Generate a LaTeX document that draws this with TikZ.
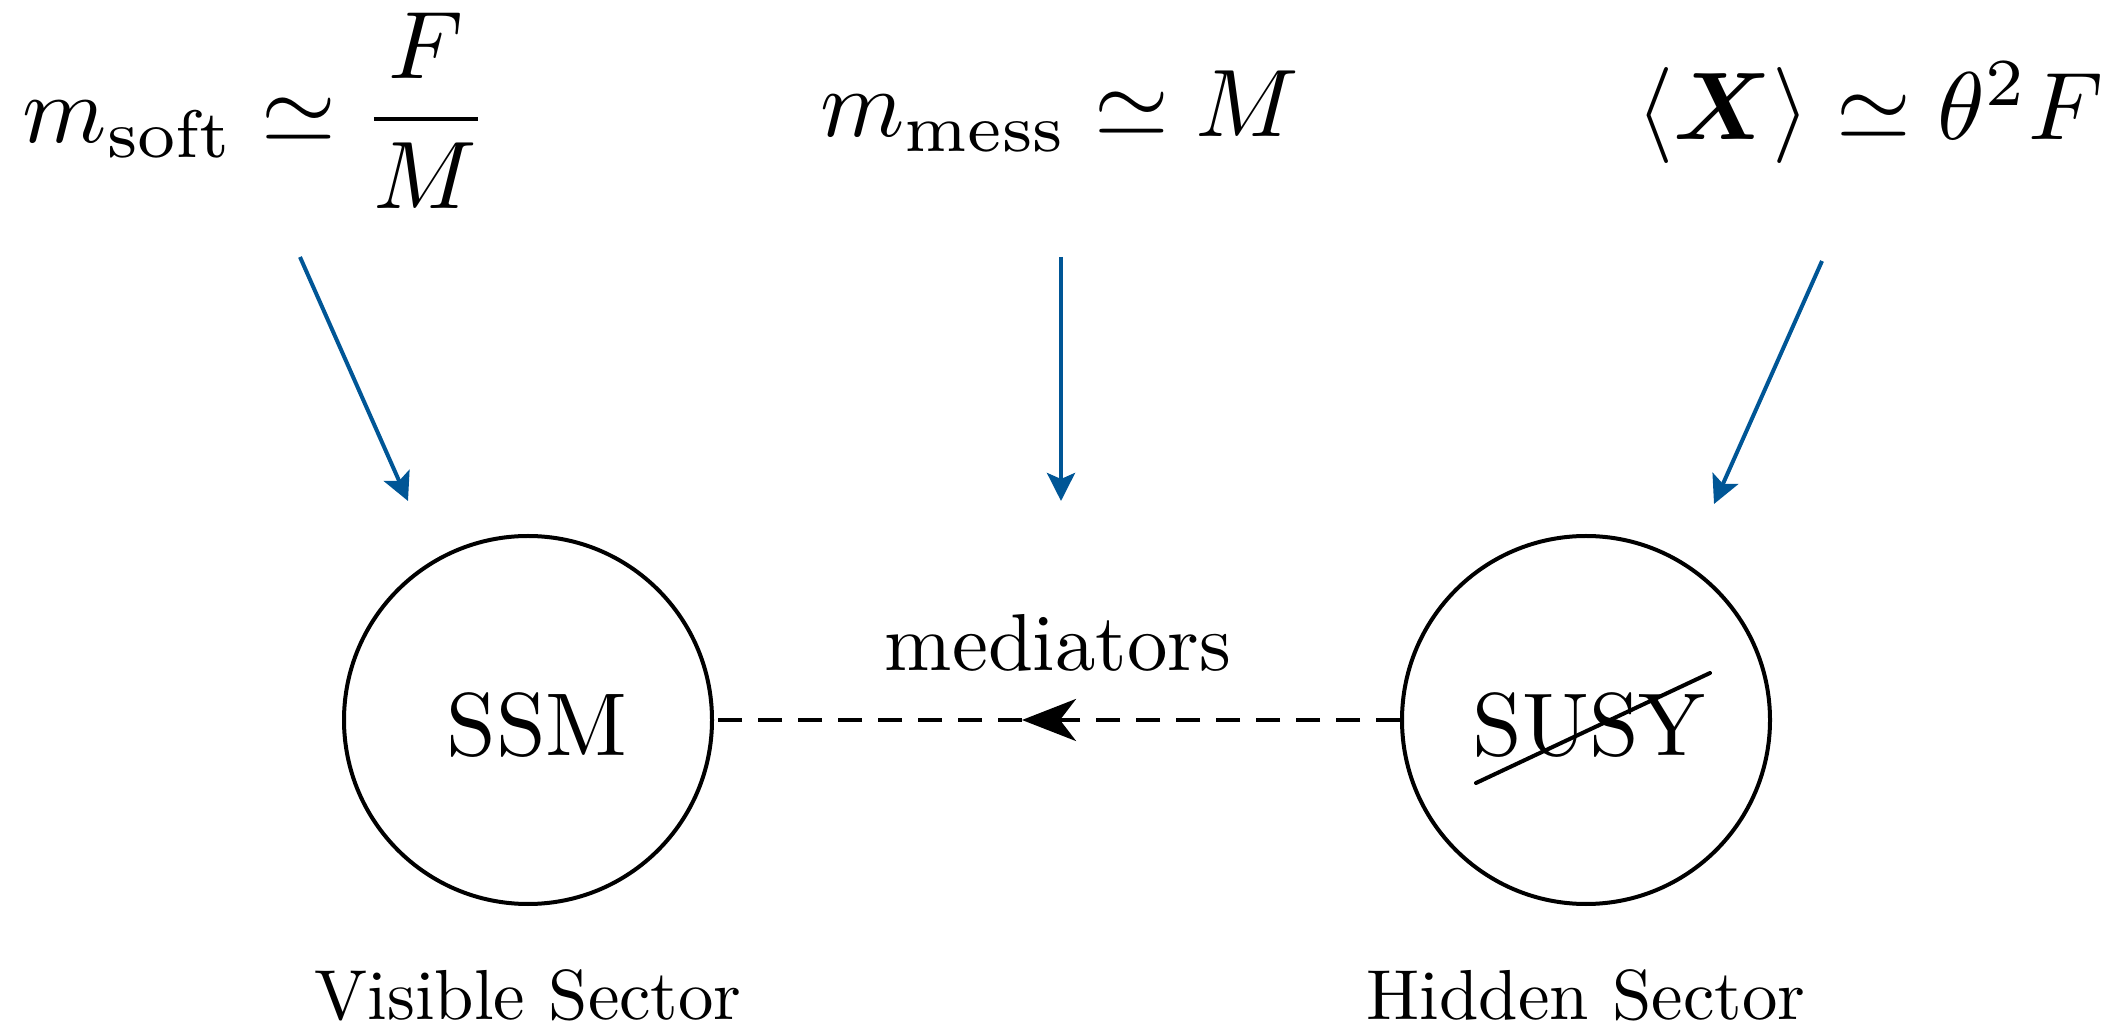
\documentclass[tikz,border=0pt]{standalone}
\usepackage{amsmath}
\usepackage{graphicx}
\usetikzlibrary{arrows.meta}
\definecolor{arrblue}{RGB}{0,86,150}
\begin{document}
\begin{tikzpicture}[x=0.25pt,y=-0.25pt,
  sector/.style={draw,circle,line width=1pt,minimum size=92pt,inner sep=0pt},
  intext/.style={inner sep=0pt},
  toplabel/.style={inner sep=0pt,anchor=base},
  seclabel/.style={inner sep=0pt,anchor=base},
  bluearrow/.style={draw=arrblue,line width=1pt,-{Stealth[length=7pt,width=7pt,inset=1.5pt]}},
  medline/.style={line width=1pt,dash pattern=on 6pt off 4pt}]
\useasboundingbox (0,0) rectangle (2119,1025);
\node[sector] (A) at (528,720) {};
\node[sector] (B) at (1586,720) {};
\node[intext] (ssm) at (537,725) {\scalebox{2.23}{SSM}};
\node[intext] (susy) at (1589,725) {\scalebox{2.23}{SUSY}};
\coordinate (s1) at (1476,783);
\coordinate (s2) at (1710,673);
\draw[line width=1pt,line cap=round] (s1) -- (s2);
\coordinate (tip) at (1022,720);
\draw[medline,-{Stealth[length=13.5pt,width=10.5pt,inset=4pt]}] (B.west) -- (tip);
\draw[medline] (tip) -- (A.east);
\node[inner sep=0pt,anchor=base] (med) at (1058,671) {\scalebox{2.02}{mediators}};
\node[seclabel] (vis) at (528,1019) {\scalebox{1.77}{Visible Sector}};
\node[seclabel] (hid) at (1586,1019) {\scalebox{1.77}{Hidden Sector}};
\node[toplabel] (soft) at (256,143) {\scalebox{2.4}{$m_{\text{soft}}\simeq\dfrac{F}{M}$}};
\node[toplabel] (mess) at (1060,137) {\scalebox{2.4}{$m_{\text{mess}}\simeq M$}};
\node[toplabel] (vev) at (1870,140) {\scalebox{2.4}{$\langle\boldsymbol{X}\rangle\simeq\theta^2F$}};
\coordinate (a1s) at (300,257);
\coordinate (a1e) at (408,501);
\coordinate (a2s) at (1061,257);
\coordinate (a2e) at (1061,501);
\coordinate (a3s) at (1822,261);
\coordinate (a3e) at (1714,504);
\draw[bluearrow] (a1s) -- (a1e);
\draw[bluearrow] (a2s) -- (a2e);
\draw[bluearrow] (a3s) -- (a3e);
\end{tikzpicture}
\end{document}
